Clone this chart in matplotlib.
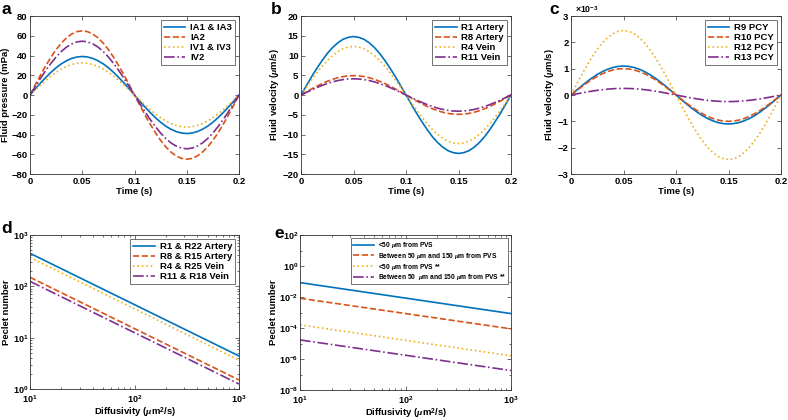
import matplotlib
matplotlib.use("Agg")
import matplotlib.pyplot as plt
import numpy as np
from matplotlib.ticker import NullFormatter, FixedLocator

plt.rcParams['font.family'] = ['Liberation Sans', 'DejaVu Sans']
plt.rcParams['font.weight'] = 'bold'
plt.rcParams['axes.labelweight'] = 'bold'
plt.rcParams['mathtext.fontset'] = 'custom'
plt.rcParams['mathtext.rm'] = 'Liberation Sans:bold'
plt.rcParams['mathtext.it'] = 'Liberation Serif:italic'
plt.rcParams['mathtext.bf'] = 'Liberation Sans:bold'

C = ['#0072BD', '#D95319', '#EDB120', '#7E2F8E']
STY = ['-', '--', ':', '-.']

# ---- time axis (s) ----
t = [0.000, 0.005, 0.010, 0.015, 0.020, 0.025, 0.030, 0.035, 0.040, 0.045,
     0.050, 0.055, 0.060, 0.065, 0.070, 0.075, 0.080, 0.085, 0.090, 0.095,
     0.100, 0.105, 0.110, 0.115, 0.120, 0.125, 0.130, 0.135, 0.140, 0.145,
     0.150, 0.155, 0.160, 0.165, 0.170, 0.175, 0.180, 0.185, 0.190, 0.195, 0.200]

# ---- panel a: fluid pressure (mPa) ----
a_labels = ['IA1 & IA3', 'IA2', 'IV1 & IV3', 'IV2']
ia1 = [0, 6.1, 12.1, 17.7, 22.9, 27.6, 31.6, 34.7, 37.1, 38.5, 39.0,
       38.5, 37.1, 34.7, 31.6, 27.6, 22.9, 17.7, 12.1, 6.1, 0,
       -6.1, -12.1, -17.7, -22.9, -27.6, -31.6, -34.7, -37.1, -38.5, -39.0,
       -38.5, -37.1, -34.7, -31.6, -27.6, -22.9, -17.7, -12.1, -6.1, 0]
ia2 = [0, 10.2, 20.1, 29.5, 38.2, 46.0, 52.6, 57.9, 61.8, 64.2, 65.0,
       64.2, 61.8, 57.9, 52.6, 46.0, 38.2, 29.5, 20.1, 10.2, 0,
       -10.2, -20.1, -29.5, -38.2, -46.0, -52.6, -57.9, -61.8, -64.2, -65.0,
       -64.2, -61.8, -57.9, -52.6, -46.0, -38.2, -29.5, -20.1, -10.2, 0]
iv1 = [0, 5.1, 10.0, 14.8, 19.1, 23.0, 26.3, 29.0, 30.9, 32.1, 32.5,
       32.1, 30.9, 29.0, 26.3, 23.0, 19.1, 14.8, 10.0, 5.1, 0,
       -5.1, -10.0, -14.8, -19.1, -23.0, -26.3, -29.0, -30.9, -32.1, -32.5,
       -32.1, -30.9, -29.0, -26.3, -23.0, -19.1, -14.8, -10.0, -5.1, 0]
iv2 = [0, 8.5, 16.8, 24.7, 32.0, 38.5, 44.1, 48.6, 51.8, 53.8, 54.5,
       53.8, 51.8, 48.6, 44.1, 38.5, 32.0, 24.7, 16.8, 8.5, 0,
       -8.5, -16.8, -24.7, -32.0, -38.5, -44.1, -48.6, -51.8, -53.8, -54.5,
       -53.8, -51.8, -48.6, -44.1, -38.5, -32.0, -24.7, -16.8, -8.5, 0]

# ---- panel b: fluid velocity (um/s) ----
b_labels = ['R1 Artery', 'R8 Artery', 'R4 Vein', 'R11 Vein']
r1 = [0, 2.3, 4.6, 6.7, 8.7, 10.5, 12.0, 13.2, 14.1, 14.6, 14.8,
      14.6, 14.1, 13.2, 12.0, 10.5, 8.7, 6.7, 4.6, 2.3, 0,
      -2.3, -4.6, -6.7, -8.7, -10.5, -12.0, -13.2, -14.1, -14.6, -14.8,
      -14.6, -14.1, -13.2, -12.0, -10.5, -8.7, -6.7, -4.6, -2.3, 0]
r8 = [0, 0.77, 1.51, 2.22, 2.88, 3.46, 3.96, 4.37, 4.66, 4.84, 4.9,
      4.84, 4.66, 4.37, 3.96, 3.46, 2.88, 2.22, 1.51, 0.77, 0,
      -0.77, -1.51, -2.22, -2.88, -3.46, -3.96, -4.37, -4.66, -4.84, -4.9,
      -4.84, -4.66, -4.37, -3.96, -3.46, -2.88, -2.22, -1.51, -0.77, 0]
r4 = [0, 1.92, 3.80, 5.58, 7.23, 8.70, 9.95, 10.96, 11.70, 12.15, 12.3,
      12.15, 11.70, 10.96, 9.95, 8.70, 7.23, 5.58, 3.80, 1.92, 0,
      -1.92, -3.80, -5.58, -7.23, -8.70, -9.95, -10.96, -11.70, -12.15, -12.3,
      -12.15, -11.70, -10.96, -9.95, -8.70, -7.23, -5.58, -3.80, -1.92, 0]
r11 = [0, 0.64, 1.27, 1.86, 2.41, 2.90, 3.32, 3.65, 3.90, 4.05, 4.1,
       4.05, 3.90, 3.65, 3.32, 2.90, 2.41, 1.86, 1.27, 0.64, 0,
       -0.64, -1.27, -1.86, -2.41, -2.90, -3.32, -3.65, -3.90, -4.05, -4.1,
       -4.05, -3.90, -3.65, -3.32, -2.90, -2.41, -1.86, -1.27, -0.64, 0]

# ---- panel c: fluid velocity (x1e-3 um/s) ----
c_labels = ['R9 PCY', 'R10 PCY', 'R12 PCY', 'R13 PCY']
r9 = [0, 0.172, 0.340, 0.499, 0.647, 0.778, 0.890, 0.980, 1.046, 1.086, 1.10,
      1.086, 1.046, 0.980, 0.890, 0.778, 0.647, 0.499, 0.340, 0.172, 0,
      -0.172, -0.340, -0.499, -0.647, -0.778, -0.890, -0.980, -1.046, -1.086, -1.10,
      -1.086, -1.046, -0.980, -0.890, -0.778, -0.647, -0.499, -0.340, -0.172, 0]
r10 = [0, 0.156, 0.309, 0.454, 0.588, 0.707, 0.809, 0.891, 0.951, 0.988, 1.00,
       0.988, 0.951, 0.891, 0.809, 0.707, 0.588, 0.454, 0.309, 0.156, 0,
       -0.156, -0.309, -0.454, -0.588, -0.707, -0.809, -0.891, -0.951, -0.988, -1.00,
       -0.988, -0.951, -0.891, -0.809, -0.707, -0.588, -0.454, -0.309, -0.156, 0]
r12 = [0, 0.383, 0.757, 1.112, 1.440, 1.732, 1.982, 2.183, 2.330, 2.420, 2.45,
       2.420, 2.330, 2.183, 1.982, 1.732, 1.440, 1.112, 0.757, 0.383, 0,
       -0.383, -0.757, -1.112, -1.440, -1.732, -1.982, -2.183, -2.330, -2.420, -2.45,
       -2.420, -2.330, -2.183, -1.982, -1.732, -1.440, -1.112, -0.757, -0.383, 0]
r13 = [0, 0.039, 0.077, 0.114, 0.147, 0.177, 0.202, 0.223, 0.238, 0.247, 0.25,
       0.247, 0.238, 0.223, 0.202, 0.177, 0.147, 0.114, 0.077, 0.039, 0,
       -0.039, -0.077, -0.114, -0.147, -0.177, -0.202, -0.223, -0.238, -0.247, -0.25,
       -0.247, -0.238, -0.223, -0.202, -0.177, -0.147, -0.114, -0.077, -0.039, 0]

# ---- panel d: Peclet number vs diffusivity ----
diff = [10, 1000]
d_labels = ['R1 & R22 Artery', 'R8 & R15 Artery', 'R4 & R25 Vein', 'R11 & R18 Vein']
pe_r1 = [440, 4.4]
pe_r8 = [150, 1.5]
pe_r4 = [365, 3.65]
pe_r11 = [125, 1.25]

# ---- panel e ----
e_labels = [r'<50 $\mu$m from PVS',
            r'Between 50 $\mu$m and 150 $\mu$m from PVS',
            r'<50 $\mu$m from PVS **',
            r'Between 50  $\mu$m and 150 $\mu$m from PVS **']
pe_e1 = [8.5e-2, 8.5e-4]
pe_e2 = [8.3e-3, 8.8e-5]
pe_e3 = [1.6e-4, 1.6e-6]
pe_e4 = [1.7e-5, 1.8e-7]

W, H = 788, 420
fig = plt.figure(figsize=(W / 100, H / 100), dpi=100)

def ax_px(l, r, top, bot):
    return fig.add_axes([l / W, 1 - bot / H, (r - l) / W, (bot - top) / H])

FS = 6.8

def style(ax, xpad=2, ypad=1.8, lfs=FS):
    ax.tick_params(direction='in', top=True, right=True, labelsize=lfs, length=3,
                   width=0.5, color='#333333')
    ax.tick_params(axis='x', pad=xpad)
    ax.tick_params(axis='y', pad=ypad)
    ax.tick_params(which='minor', direction='in', top=True, right=True, length=1.6,
                   width=0.5, color='#333333')
    for s in ax.spines.values():
        s.set_linewidth(0.6)
        s.set_color('#333333')
    for lab in ax.get_xticklabels() + ax.get_yticklabels():
        lab.set_fontweight('bold')

def legend(ax, labels, fs=FS, hl=2.3):
    lg = ax.legend(labels, fontsize=fs, loc='upper right', frameon=True, fancybox=False,
                   edgecolor='#333333', handlelength=hl, borderpad=0.3,
                   labelspacing=0.12, handletextpad=0.5, borderaxespad=0.45)
    lg.get_frame().set_linewidth(0.6)
    for tx in lg.get_texts():
        tx.set_fontweight('bold')
    return lg

time_ticks = [0, 0.05, 0.1, 0.15, 0.2]
time_lbls = ['0', '0.05', '0.1', '0.15', '0.2']

# panel a
ax = ax_px(30, 239, 16, 174)
for y, c, s in zip([ia1, ia2, iv1, iv2], C, STY):
    ax.plot(t, y, color=c, ls=s, lw=1.2)
ax.set_xlim(0, 0.2); ax.set_ylim(-80, 80)
ax.set_xticks(time_ticks); ax.set_xticklabels(time_lbls)
ax.set_yticks(np.arange(-80, 81, 20))
ax.set_xlabel('Time (s)', fontsize=FS, labelpad=1)
ax.set_ylabel('Fluid pressure (mPa)', fontsize=FS, labelpad=1)
style(ax); legend(ax, a_labels)

# panel b
ax = ax_px(301, 511, 16, 174)
for y, c, s in zip([r1, r8, r4, r11], C, STY):
    ax.plot(t, y, color=c, ls=s, lw=1.2)
ax.set_xlim(0, 0.2); ax.set_ylim(-20, 20)
ax.set_xticks(time_ticks); ax.set_xticklabels(time_lbls)
ax.set_yticks(np.arange(-20, 21, 5))
ax.set_xlabel('Time (s)', fontsize=FS, labelpad=1)
ax.set_ylabel(r'Fluid velocity ($\mu$m/s)', fontsize=FS, labelpad=1)
style(ax); legend(ax, b_labels)

# panel c
ax = ax_px(571, 781, 16, 174)
for y, c, s in zip([r9, r10, r12, r13], C, STY):
    ax.plot(t, y, color=c, ls=s, lw=1.2)
ax.set_xlim(0, 0.2); ax.set_ylim(-3, 3)
ax.set_xticks(time_ticks); ax.set_xticklabels(time_lbls)
ax.set_yticks(np.arange(-3, 4, 1))
ax.text(0.02, 1.005, r'$\times10^{-3}$', transform=ax.transAxes, fontsize=FS - 0.5,
        ha='left', va='bottom', fontweight='normal')
ax.set_xlabel('Time (s)', fontsize=FS, labelpad=1)
ax.set_ylabel(r'Fluid velocity ($\mu$m/s)', fontsize=FS, labelpad=1)
style(ax); legend(ax, c_labels)

# panel d
ax = ax_px(30, 239, 235, 389)
for y, c, s in zip([pe_r1, pe_r8, pe_r4, pe_r11], C, STY):
    ax.loglog(diff, y, color=c, ls=s, lw=1.2)
ax.set_xlim(10, 1000); ax.set_ylim(1, 1000)
ax.xaxis.set_major_locator(FixedLocator([10, 100, 1000]))
ax.yaxis.set_major_locator(FixedLocator([1, 10, 100, 1000]))
ax.set_xlabel(r'Diffusivity ($\mu$m$^2$/s)', fontsize=FS, labelpad=0.5)
ax.set_ylabel('Peclet number', fontsize=FS, labelpad=1)
style(ax, xpad=3, ypad=1.2, lfs=6.5); legend(ax, d_labels)

# panel e
ax = ax_px(300, 511, 235, 390)
for y, c, s in zip([pe_e1, pe_e2, pe_e3, pe_e4], C, STY):
    ax.loglog(diff, y, color=c, ls=s, lw=1.2)
ax.set_xlim(10, 1000); ax.set_ylim(1e-8, 1e2)
ax.xaxis.set_major_locator(FixedLocator([10, 100, 1000]))
ax.yaxis.set_major_locator(FixedLocator([1e-8, 1e-6, 1e-4, 1e-2, 1e0, 1e2]))
ax.yaxis.set_minor_locator(FixedLocator([1e-7, 1e-5, 1e-3, 1e-1, 1e1]))
ax.yaxis.set_minor_formatter(NullFormatter())
ax.set_xlabel(r'Diffusivity ($\mu$m$^2$/s)', fontsize=FS, labelpad=0.5)
ax.set_ylabel('Peclet number', fontsize=FS, labelpad=1)
style(ax, xpad=3, ypad=1.2, lfs=6.5); legend(ax, e_labels, fs=4.8, hl=3.2)

# panel letters
for x, y, s in [(2, 9, 'a'), (271, 9, 'b'), (549, 9, 'c'), (1, 229, 'd'), (274, 234, 'e')]:
    fig.text(x / W, 1 - y / H, s, fontsize=12.5, fontweight='bold', ha='left', va='center')

fig.savefig('out.png', dpi=100)
